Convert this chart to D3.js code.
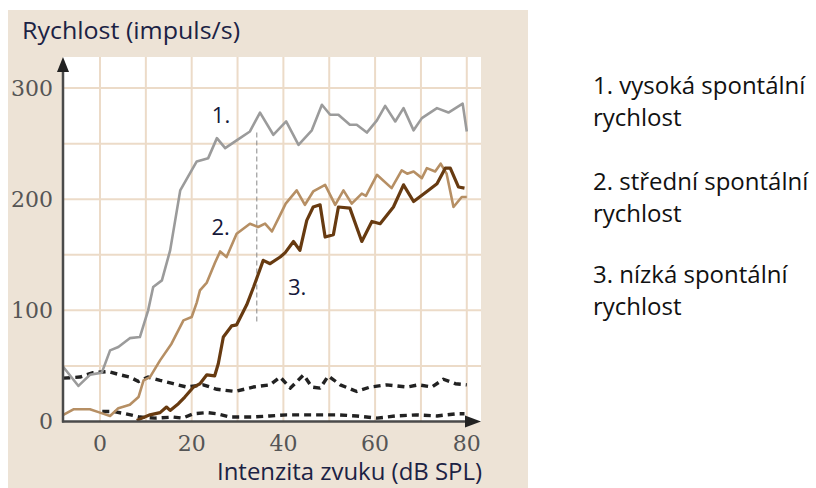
<!DOCTYPE html>
<html>
<head>
<meta charset="utf-8">
<script src="https://cdn.jsdelivr.net/npm/d3@7"></script>
<style>
  body { margin: 0; background: #fff; }
  svg { display: block; }
  .tick-label { font-family: "DejaVu Serif", serif; font-size: 22px; fill: #555; }
  .sans { font-family: "Open Sans", sans-serif; }
</style>
</head>
<body>
<svg id="chart" width="816" height="488"></svg>
<script>
// curve 1 - high spontaneous rate (gray)
const highDb = [-8, -4.7, -2.2, 0.4, 2.2, 4, 6.5, 8.7, 10.5, 11.6, 13.5, 15.3, 17.5, 21.1, 23.6, 25.5, 27.3, 29.8, 32.7, 34.9, 37.8, 40.6, 43.3, 46.2, 48.4, 50.2, 52, 54.5, 56, 58.2, 60.4, 62.2, 64.4, 66.2, 68.4, 70.2, 73.5, 76, 79.1, 80];
const highRate = [49, 32, 42, 44, 64, 67, 75, 76, 100, 121, 127, 154, 208, 234, 237, 255, 246, 253, 261, 278, 258, 270, 249, 262, 285, 276, 276, 267, 267, 260, 271, 284, 270, 282, 262, 273, 282, 278, 286, 261];

// curve 2 - medium spontaneous rate (tan)
const midDb = [-8, -5.8, -2.2, 0, 2.2, 4, 6.5, 8.4, 9.5, 10.9, 13.1, 15.6, 18.2, 20, 21.1, 21.8, 23.3, 25.1, 26.2, 27.6, 29.8, 32.7, 34.5, 36, 37.5, 39.3, 40.5, 42.9, 44.7, 46.5, 49.1, 51.3, 53.1, 54.9, 57.1, 58, 60.4, 63.6, 65.8, 67, 68.4, 70.2, 71.3, 73.1, 74.3, 75.6, 77.1, 78.9, 80];
const midRate = [6, 11, 11, 8, 5, 12, 15, 22, 37, 40, 55, 70, 91, 94, 107, 118, 125, 143, 153, 148, 169, 178, 175, 178, 171, 186, 196, 208, 195, 207, 213, 195, 208, 196, 205, 203, 222, 210, 226, 223, 225, 219, 228, 225, 232, 223, 193, 202, 202];

// curve 3 - low spontaneous rate (dark brown)
const lowDb = [8, 10.9, 13.1, 14.5, 15.3, 17.1, 18.5, 20.4, 21.8, 23.3, 25, 25.8, 26.9, 28.7, 29.8, 32, 33.5, 35.6, 37.1, 39.3, 40.4, 42.2, 43.6, 45.1, 46.5, 48, 49.1, 50.9, 52, 54.5, 57.1, 59.3, 61.1, 64, 66.2, 68.4, 71.3, 73.5, 75.3, 76.4, 78.2, 79.5];
const lowRate = [1, 6, 8, 13, 10, 16, 22, 31, 34, 42, 41, 52, 76, 86, 87, 105, 121, 145, 142, 148, 152, 162, 154, 181, 193, 195, 166, 168, 193, 192, 162, 180, 178, 193, 213, 198, 207, 214, 228, 228, 211, 210];

// spontaneous activity (dashed), upper and lower
const spontHiDb = [-8, -4.4, -1.5, 1.8, 4.4, 6.5, 8.4, 10.5, 13.1, 16, 18.9, 22.5, 25.5, 29.5, 33.4, 37.1, 39.3, 41.5, 44.4, 46.2, 48, 49.8, 52.4, 56, 58.9, 62.5, 66.9, 69.5, 72.4, 74.9, 77.5, 80];
const spontHiRate = [39, 40, 44, 45, 42, 40, 36, 40, 37, 34, 31, 33, 29, 27, 31, 33, 40, 30, 42, 31, 30, 41, 33, 27, 31, 33, 31, 33, 31, 38, 34, 33];
const spontLoDb = [0.5, 2.9, 5.5, 8.7, 12, 16, 18, 20.4, 23.3, 25.5, 28.4, 33, 37, 40.7, 45, 51.6, 56, 60.4, 64.5, 69, 73.5, 77.8, 79.5];
const spontLoRate = [9, 9, 7, 4, 3, 4, 3, 7, 8, 7, 4, 4, 5, 6, 6, 6, 5, 3, 5, 6, 5, 7, 7];

// dashed vertical marker
const markerDb = [34.2, 34.2];
const markerRate = [90, 262];

const xTicks = [0, 20, 40, 60, 80];
const yTicks = [0, 100, 200, 300];
const xGrid = [0, 10, 20, 30, 40, 50, 60, 70, 80];
const yGrid = [50, 100, 150, 200, 250, 300];

const curveLabels = ['1.', '2.', '3.'];
const labelDb = [24.4, 24.3, 41];
const labelRate = [269, 168, 114];

const legendLines = ['1. vysoká spontální', 'rychlost', '2. střední spontální', 'rychlost', '3. nízká spontální', 'rychlost'];

const svg = d3.select('#chart');

// plot frame
const plotLeft = 63, plotRight = 481, plotTop = 57, plotBottom = 421.5;

const x = d3.scaleLinear().domain([-8.07, 83.1]).range([plotLeft, plotRight]);
const y = d3.scaleLinear().domain([0, 328]).range([plotBottom, plotTop]);

// beige panel
svg.append('rect')
  .attr('x', 8).attr('y', 10)
  .attr('width', 520).attr('height', 478)
  .attr('fill', '#ede3d6');

svg.append('rect')
  .attr('x', plotLeft).attr('y', plotTop)
  .attr('width', plotRight - plotLeft).attr('height', plotBottom - plotTop)
  .attr('fill', '#fff');

// grid
svg.append('g')
  .selectAll('line')
  .data(xGrid)
  .join('line')
  .attr('x1', d => x(d)).attr('x2', d => x(d))
  .attr('y1', plotTop).attr('y2', plotBottom)
  .attr('stroke', '#ecdbc8')
  .attr('stroke-width', 2);

svg.append('g')
  .selectAll('line')
  .data(yGrid)
  .join('line')
  .attr('x1', plotLeft).attr('x2', plotRight)
  .attr('y1', d => y(d)).attr('y2', d => y(d))
  .attr('stroke', '#ecdbc8')
  .attr('stroke-width', 2);

// tick labels
svg.append('g')
  .selectAll('text')
  .data(yTicks)
  .join('text')
  .attr('class', 'tick-label')
  .attr('x', 53)
  .attr('y', d => y(d))
  .attr('dy', '0.36em')
  .attr('text-anchor', 'end')
  .text(d => d);

svg.append('g')
  .selectAll('text')
  .data(xTicks)
  .join('text')
  .attr('class', 'tick-label')
  .attr('x', d => x(d))
  .attr('y', 451)
  .attr('text-anchor', 'middle')
  .text(d => d);

// dashed vertical marker
svg.append('path')
  .datum(d3.zip(markerDb, markerRate))
  .attr('d', d3.line().x(d => x(d[0])).y(d => y(d[1])))
  .attr('fill', 'none')
  .attr('stroke', '#888')
  .attr('stroke-width', 1)
  .attr('stroke-dasharray', '5,3');

const line = d3.line()
  .x(d => x(d[0]))
  .y(d => y(d[1]))
  .curve(d3.curveLinear);

const series = [
  {db: spontHiDb, rate: spontHiRate, color: '#222', width: 3.4, dash: '7,5'},
  {db: spontLoDb, rate: spontLoRate, color: '#222', width: 3.4, dash: '7,5'},
  {db: highDb, rate: highRate, color: '#9b9b9b', width: 2.6, dash: null},
  {db: midDb, rate: midRate, color: '#b68f64', width: 2.6, dash: null},
  {db: lowDb, rate: lowRate, color: '#673a10', width: 3.2, dash: null},
];

svg.append('g')
  .selectAll('path')
  .data(series)
  .join('path')
  .attr('d', s => line(d3.zip(s.db, s.rate)))
  .attr('fill', 'none')
  .attr('stroke', s => s.color)
  .attr('stroke-width', s => s.width)
  .attr('stroke-linejoin', 'round')
  .attr('stroke-dasharray', s => s.dash);

// axes with arrows
const axisColor = '#4a4a4a';
svg.append('line')
  .attr('x1', plotLeft).attr('x2', plotLeft)
  .attr('y1', plotBottom + 1).attr('y2', plotTop + 12)
  .attr('stroke', axisColor).attr('stroke-width', 2.5);
svg.append('path')
  .attr('d', `M${plotLeft - 6},${plotTop + 15}L${plotLeft},${plotTop}L${plotLeft + 6},${plotTop + 15}Z`)
  .attr('fill', '#222');

svg.append('line')
  .attr('x1', plotLeft - 1).attr('x2', plotRight - 12)
  .attr('y1', plotBottom).attr('y2', plotBottom)
  .attr('stroke', axisColor).attr('stroke-width', 2.5);
svg.append('path')
  .attr('d', `M${plotRight - 16},${plotBottom - 6}L${plotRight},${plotBottom}L${plotRight - 16},${plotBottom + 6}Z`)
  .attr('fill', '#222');

// curve labels
svg.append('g')
  .selectAll('text')
  .data(curveLabels)
  .join('text')
  .attr('class', 'sans')
  .attr('x', (d, i) => x(labelDb[i]))
  .attr('y', (d, i) => y(labelRate[i]))
  .attr('font-size', 22)
  .attr('fill', '#15183a')
  .text(d => d);

// axis titles
svg.append('text')
  .attr('class', 'sans')
  .attr('x', 22).attr('y', 39)
  .attr('font-size', 23)
  .attr('textLength', 218)
  .attr('lengthAdjust', 'spacingAndGlyphs')
  .attr('fill', '#1b2244')
  .text('Rychlost (impuls/s)');

svg.append('text')
  .attr('class', 'sans')
  .attr('x', 217).attr('y', 480)
  .attr('font-size', 24)
  .attr('textLength', 265)
  .attr('lengthAdjust', 'spacingAndGlyphs')
  .attr('fill', '#1b2244')
  .text('Intenzita zvuku (dB SPL)');

// legend text on the right
const legendY = [94, 126, 190, 222, 283, 315];
svg.append('g')
  .selectAll('text')
  .data(legendLines)
  .join('text')
  .attr('class', 'sans')
  .attr('x', 593)
  .attr('y', (d, i) => legendY[i])
  .attr('font-size', 24)
  .attr('fill', '#111')
  .text(d => d);
</script>
</body>
</html>
